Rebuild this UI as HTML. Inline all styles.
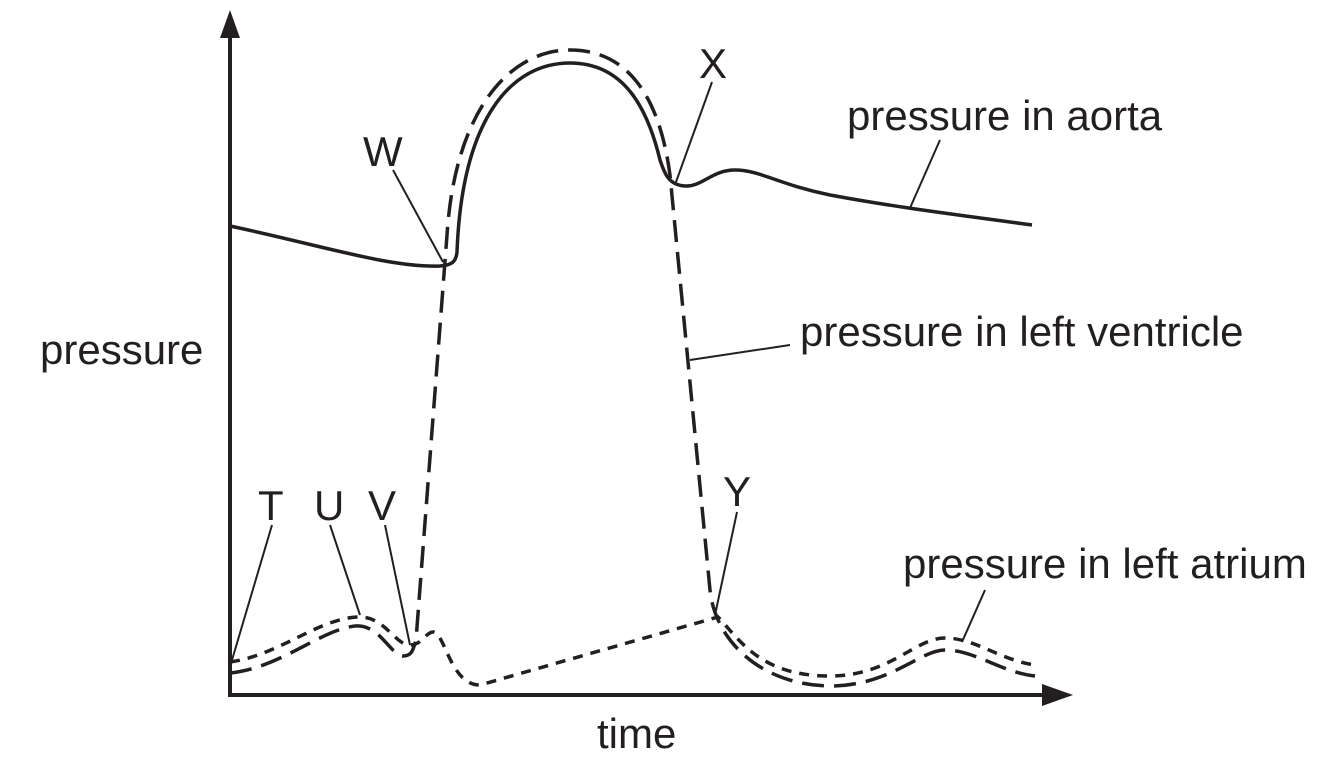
<!DOCTYPE html>
<html><head><style>
body{margin:0;background:#fff}
svg{display:block}
text{font-family:"Liberation Sans",Arial,sans-serif;font-size:42px;fill:#231f20}
</style></head><body>
<svg width="1334" height="778" viewBox="0 0 1334 778" xmlns="http://www.w3.org/2000/svg">
<g stroke="#231f20" fill="none" stroke-linecap="butt">
<line x1="230" y1="30" x2="230" y2="697" stroke-width="4"/>
<line x1="228" y1="695" x2="1045" y2="695" stroke-width="4"/>
</g>
<polygon points="230,10 220,38 240,38" fill="#231f20"/>
<polygon points="1073,695 1042,684 1042,706" fill="#231f20"/>
<g stroke="#231f20" fill="none" stroke-width="3.5">
<path d="M230,226 C320,245 390,268 440,266 C452,265 456,262 457,252 C462,120 510,63 570,63 C625,63 648,110 660,160 C664,172 668,185 685,186 C702,187 712,170 735,170 C760,170 780,185 830,195 C900,208 960,215 1032,225"/>
<path stroke-dasharray="22,10" d="M230,673 C280,668 320,630 355,626 C380,624 390,655 403,656 C412,656 413,650 416,640 L447,235 C455,110 510,50 570,50 C630,50 660,100 670,175 L710,590 C715,640 760,685 830,686 C890,686 920,650 945,650 C975,650 1000,672 1035,676"/>
<path stroke-dasharray="10,8" d="M230,662 C280,655 320,617 360,617 C385,617 395,645 410,645 C422,645 426,632 433,632 C445,632 450,685 480,685 L718,617 C740,640 760,676 830,676 C890,676 915,638 945,638 C975,638 1000,660 1035,665"/>
</g>
<g stroke="#231f20" stroke-width="2" fill="none">
<line x1="272" y1="525" x2="232" y2="660"/>
<line x1="330" y1="525" x2="360" y2="615"/>
<line x1="385" y1="525" x2="410" y2="645"/>
<line x1="393" y1="170" x2="443" y2="262"/>
<line x1="712" y1="82" x2="676" y2="182"/>
<line x1="940" y1="140" x2="910" y2="208"/>
<line x1="790" y1="345" x2="690" y2="360"/>
<line x1="737" y1="512" x2="715" y2="615"/>
<line x1="985" y1="590" x2="962" y2="642"/>
</g>
<text x="258" y="520">T</text>
<text x="314" y="520">U</text>
<text x="368" y="520">V</text>
<text x="363" y="166">W</text>
<text x="699" y="78">X</text>
<text x="723" y="506">Y</text>
<text x="847" y="130">pressure in aorta</text>
<text x="800" y="346">pressure in left ventricle</text>
<text x="903" y="578">pressure in left atrium</text>
<text x="40" y="364">pressure</text>
<text x="597" y="748">time</text>
</svg>
</body></html>
